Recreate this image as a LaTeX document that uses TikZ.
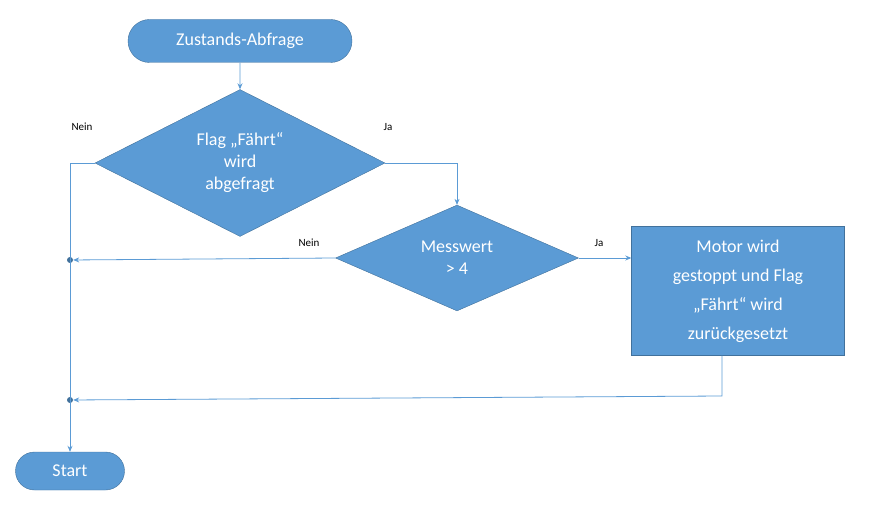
\documentclass[tikz,border=0pt]{standalone}
\usepackage{fontspec}
\setmainfont{Carlito}
\usetikzlibrary{shapes.geometric,shapes.misc,arrows.meta}
\definecolor{flowblue}{RGB}{91,155,213}
\definecolor{flowedge}{RGB}{65,113,156}
\begin{document}
\begin{tikzpicture}[x=1pt,y=-1pt,
  pill/.style={rounded rectangle,draw=flowedge,fill=flowblue,text=white,font=\fontsize{18}{21}\selectfont,inner sep=0pt},
  decide/.style={diamond,draw=flowedge,fill=flowblue,text=white,font=\fontsize{18}{22}\selectfont,inner sep=0pt,align=center},
  act/.style={rectangle,draw=flowedge,fill=flowblue,text=white,font=\fontsize{18}{29}\selectfont,inner sep=0pt,align=center},
  flow/.style={draw=flowblue,line width=0.8pt,-{Stealth[length=6pt,width=5pt]}},
  lbl/.style={font=\fontsize{11}{13}\selectfont,anchor=west},
  dot/.style={circle,fill=flowedge,inner sep=0pt,minimum size=6pt}]
\useasboundingbox (0,0) rectangle (891,521);

% Nodes
\node[pill,minimum width=224pt,minimum height=43pt] (query) at (240,41) {Zustands-Abfrage};
\node[decide,minimum width=290pt,minimum height=123pt] (flag) at (240,163) {Flag „Fährt“\\wird\\abgefragt};
\node[decide,minimum width=243pt,minimum height=97pt] (meas) at (457,258) {Messwert\\> 4};
\node[act,minimum width=213pt,minimum height=129pt] (stop) at (738,291) {Motor wird\\gestoppt und Flag\\„Fährt“ wird\\zurückgesetzt};
\node[pill,minimum width=109pt,minimum height=38pt] (start) at (70,471) {Start};
\node[dot] (j1) at (70,260) {};
\node[dot] (j2) at (70,400) {};
\coordinate (c1) at (722,396);

% Connectors
\draw[flow] (query) -- (flag);
\draw[flow] (flag.west) -- (70,163) -- (start.north);
\draw[flow] (flag.east) -| (meas.north);
\draw[flow] (meas.west) -- (j1);
\draw[flow] (meas.east) -- (stop.west |- meas.east);
\draw[flow] (stop.south -| c1) -- (c1) -- (j2);

% Labels
\node[lbl] at (68,127) {Nein};
\node[lbl] at (380,127) {Ja};
\node[lbl] at (295,243) {Nein};
\node[lbl] at (591,243) {Ja};
\end{tikzpicture}
\end{document}
